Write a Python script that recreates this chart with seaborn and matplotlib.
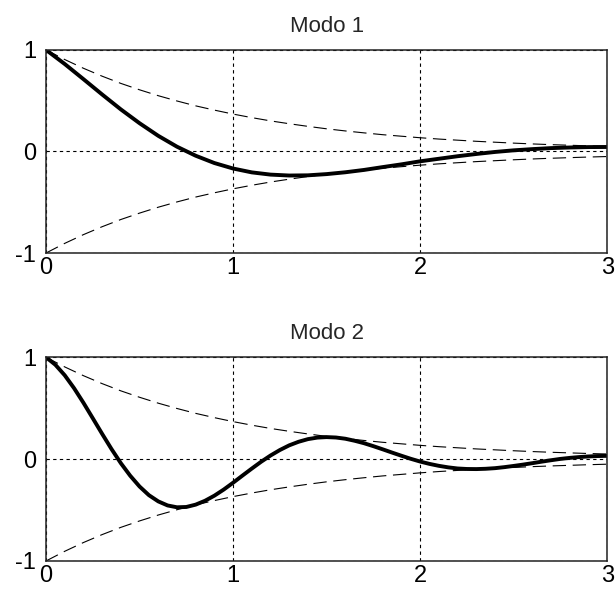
import matplotlib
matplotlib.use("Agg")
import matplotlib.pyplot as plt
import seaborn as sns
import numpy as np
import pandas as pd

# ---- data ----
t_env = [0.0, 0.1, 0.2, 0.3, 0.4, 0.5, 0.6, 0.7, 0.8, 0.9, 1.0,
         1.1, 1.2, 1.3, 1.4, 1.5, 1.6, 1.7, 1.8, 1.9, 2.0,
         2.1, 2.2, 2.3, 2.4, 2.5, 2.6, 2.7, 2.8, 2.9, 3.0]
env_upper = [1.00, 0.905, 0.819, 0.741, 0.670, 0.607, 0.549, 0.497, 0.449, 0.407, 0.368,
             0.333, 0.301, 0.273, 0.247, 0.223, 0.202, 0.183, 0.165, 0.150, 0.135,
             0.122, 0.111, 0.100, 0.091, 0.082, 0.074, 0.067, 0.061, 0.055, 0.050]
env_lower = [-v for v in env_upper]

t_mode1 = t_env
mode1 = [1.00, 0.861, 0.712, 0.561, 0.414, 0.278, 0.154, 0.047, -0.042, -0.114, -0.168,
         -0.206, -0.228, -0.237, -0.235, -0.223, -0.205, -0.182, -0.154, -0.127, -0.097,
         -0.072, -0.047, -0.025, -0.005, 0.011, 0.023, 0.033, 0.039, 0.043, 0.044]

t_mode2 = [0.00, 0.05, 0.10, 0.15, 0.20, 0.25, 0.30, 0.35, 0.40, 0.45, 0.50,
           0.55, 0.60, 0.65, 0.70, 0.75, 0.80, 0.85, 0.90, 0.95, 1.00,
           1.05, 1.10, 1.15, 1.20, 1.25, 1.30, 1.35, 1.40, 1.45, 1.50,
           1.55, 1.60, 1.65, 1.70, 1.75, 1.80, 1.85, 1.90, 1.95, 2.00,
           2.05, 2.10, 2.15, 2.20, 2.25, 2.30, 2.35, 2.40, 2.45, 2.50,
           2.55, 2.60, 2.65, 2.70, 2.75, 2.80, 2.85, 2.90, 2.95, 3.00]
mode2 = [1.00, 0.926, 0.823, 0.696, 0.553, 0.401, 0.248, 0.099, -0.040, -0.163, -0.269,
         -0.354, -0.415, -0.455, -0.473, -0.470, -0.447, -0.409, -0.359, -0.299, -0.232,
         -0.162, -0.093, -0.026, 0.035, 0.089, 0.135, 0.170, 0.196, 0.211, 0.216,
         0.212, 0.200, 0.180, 0.156, 0.127, 0.096, 0.064, 0.033, 0.003, -0.024,
         -0.047, -0.066, -0.081, -0.092, -0.097, -0.098, -0.095, -0.089, -0.079, -0.067,
         -0.054, -0.040, -0.025, -0.011, 0.002, 0.012, 0.020, 0.026, 0.030, 0.032]

titles = ["Modo 1", "Modo 2"]
x_ticks = [0, 1, 2, 3]
y_ticks = [-1, 0, 1]

# ---- style ----
sns.set_style("white")
plt.rcParams['font.family'] = ['Liberation Sans', 'DejaVu Sans']

fig = plt.figure(figsize=(6.16, 6.01), dpi=100)
ax1 = fig.add_axes([0.0747, 0.579, 0.911, 0.338])
ax2 = fig.add_axes([0.0747, 0.0666, 0.911, 0.339])

env_df = pd.DataFrame({"t": t_env, "up": env_upper, "lo": env_lower})
curves = [pd.DataFrame({"t": t_mode1, "y": mode1}),
          pd.DataFrame({"t": t_mode2, "y": mode2})]

for ax, df, title in zip([ax1, ax2], curves, titles):
    ax.set_xlim(0, 3)
    ax.set_ylim(-1, 1)
    ax.set_xticks(x_ticks)
    ax.set_yticks(y_ticks)
    ax.set_xticklabels([str(v) for v in x_ticks])
    ax.set_yticklabels([str(v) for v in y_ticks])
    ax.grid(True, color="black", linestyle=(0, (3, 3)), linewidth=0.8)
    ax.set_axisbelow(True)
    sns.lineplot(data=env_df, x="t", y="up", ax=ax, color="black",
                 linewidth=0.8, linestyle=(0, (12, 6)))
    sns.lineplot(data=env_df, x="t", y="lo", ax=ax, color="black",
                 linewidth=0.8, linestyle=(0, (12, 6)))
    sns.lineplot(data=df, x="t", y="y", ax=ax, color="black",
                 linewidth=2.8, solid_joinstyle="round", solid_capstyle="round")
    ax.set_xlabel("")
    ax.set_ylabel("")
    ax.set_title(title, fontsize=16, pad=13)
    ax.tick_params(axis="both", labelsize=17, length=0, colors="black")
    ax.tick_params(axis="x", pad=3)
    ax.tick_params(axis="y", pad=7)
    for s in ax.spines.values():
        s.set_color("#222222")
        s.set_linewidth(1.1)

fig.savefig("out.png", dpi=100)
